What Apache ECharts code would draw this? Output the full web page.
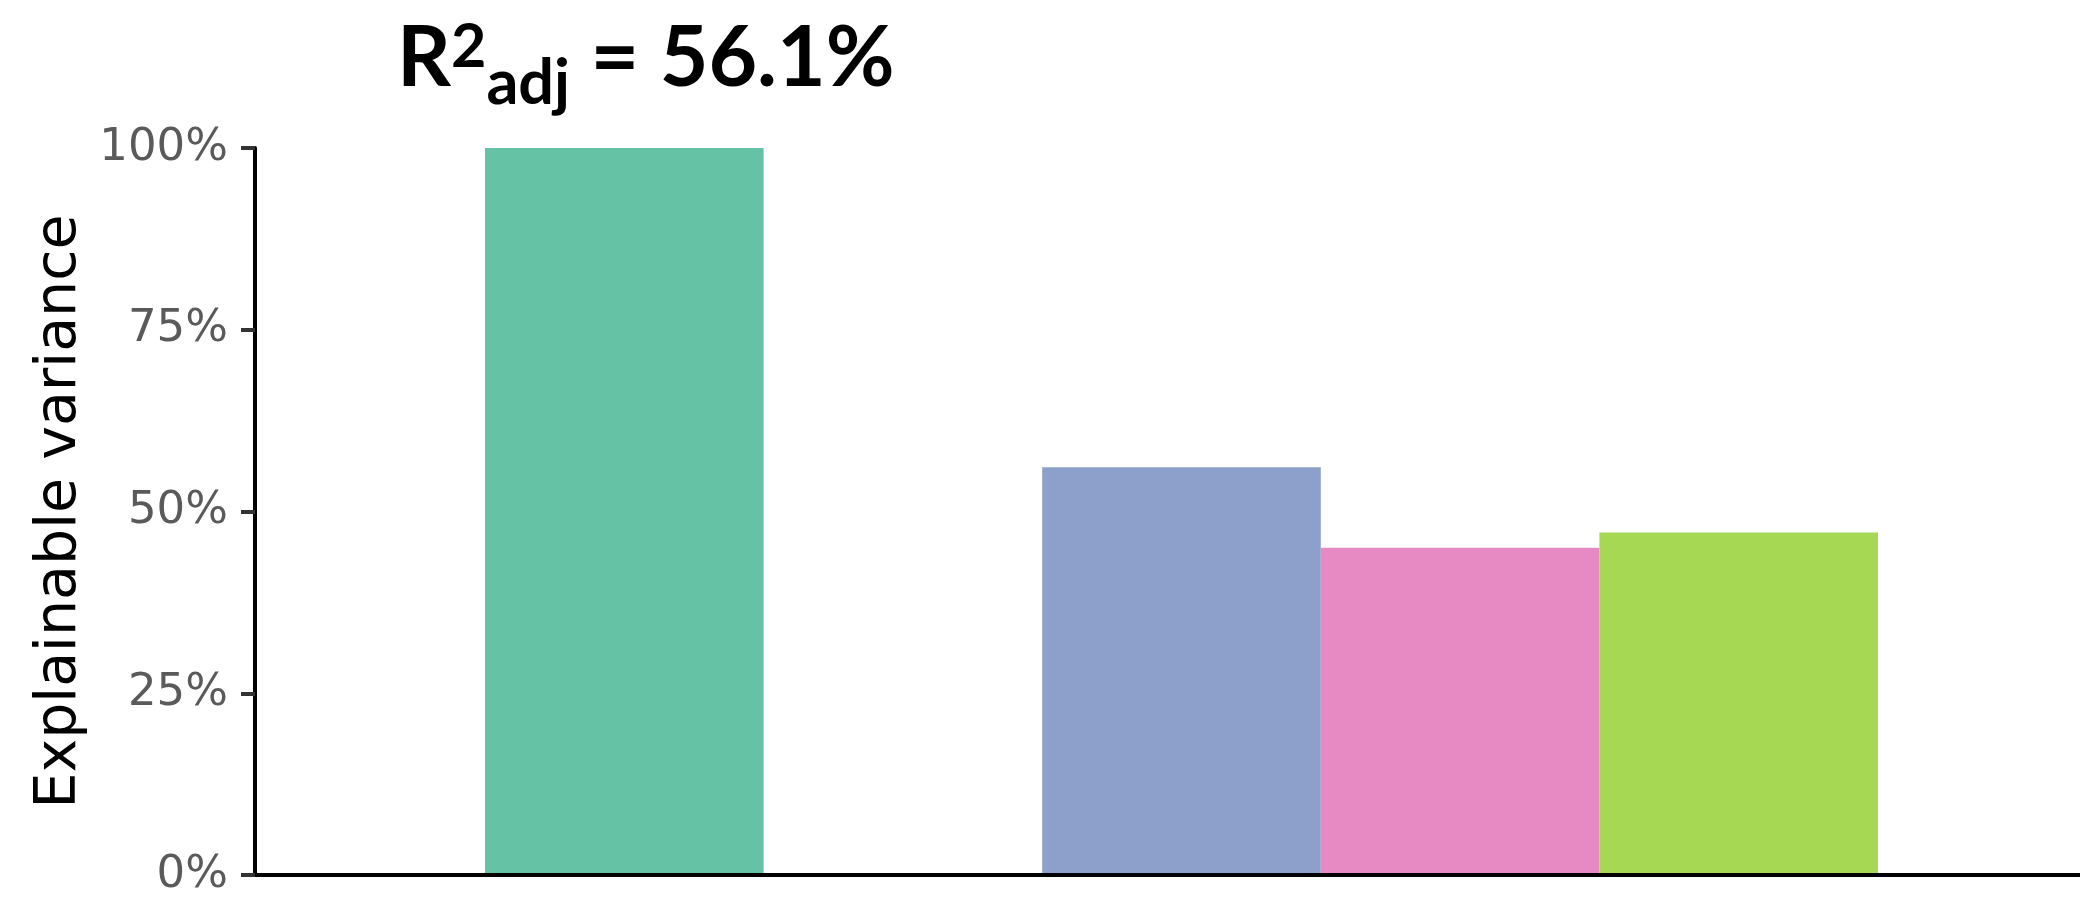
<!DOCTYPE html>
<html>
<head>
<meta charset="utf-8">
<script src="https://cdn.jsdelivr.net/npm/echarts@6/dist/echarts.min.js"></script>
<style>
  html, body { margin: 0; padding: 0; background: #ffffff; }
  #chart { width: 2080px; height: 899px; }
</style>
</head>
<body>
<div id="chart"></div>
<script>
// Bars: the explainable ceiling, an empty spacer slot, then the model and its two parts
var categories = ['Explainable', '', 'Full model', 'Part A', 'Part B'];
var values = [100, null, 56.1, 45.0, 47.1];
var barColors = ['#66c2a5', null, '#8da0cb', '#e78ac3', '#a6d854'];
var yTicks = [0, 25, 50, 75, 100];
var yTickLabels = ['0%', '25%', '50%', '75%', '100%'];
var titleParts = { base: 'R', sup: '2', sub: 'adj', rest: ' = 56.1%' };

var chart = echarts.init(document.getElementById('chart'), null, { renderer: 'canvas' });

var barData = values.map(function (v, i) {
  return v === null ? null : { value: v, itemStyle: { color: barColors[i] } };
});

var yMin = yTicks[0];
var yMax = yTicks[yTicks.length - 1];
var yStep = yTicks[1] - yTicks[0];

chart.setOption({
  backgroundColor: '#ffffff',
  animation: false,
  title: {
    text: '{b|' + titleParts.base + '}{sup|' + titleParts.sup + '}{sub|' + titleParts.sub + '}{b|' + titleParts.rest + '}',
    left: 392,
    top: 6,
    textStyle: {
      rich: {
        b:   { fontFamily: 'Lato', fontWeight: 'bold', fontSize: 84, lineHeight: 104, color: '#000', verticalAlign: 'bottom', padding: [0, 0, 14, 0] },
        sup: { fontFamily: 'Lato', fontWeight: 'bold', fontSize: 61, lineHeight: 104, color: '#000', verticalAlign: 'bottom', padding: [0, 0, 37, 0] },
        sub: { fontFamily: 'Lato', fontWeight: 'bold', fontSize: 63, lineHeight: 104, color: '#000', verticalAlign: 'bottom', padding: [0, 0, 0, 0] }
      }
    }
  },
  grid: [
    { left: 255, right: 0, top: 148, bottom: 24, containLabel: false },
    { left: 485, right: 202, top: 148, bottom: 24, containLabel: false }
  ],
  xAxis: [
    {
      gridIndex: 0, type: 'value', min: 0, max: 1, z: 5,
      axisLine: { show: true, onZero: false, lineStyle: { color: '#000', width: 4 } },
      axisTick: { show: false }, axisLabel: { show: false }, splitLine: { show: false }
    },
    {
      gridIndex: 1, type: 'category', data: categories,
      axisLine: { show: false }, axisTick: { show: false }, axisLabel: { show: false }
    }
  ],
  yAxis: [
    {
      gridIndex: 0, type: 'value', min: yMin, max: yMax, interval: yStep, z: 5,
      name: 'Explainable variance',
      nameLocation: 'middle',
      nameGap: 166,
      nameTextStyle: { fontFamily: 'DejaVu Sans', fontSize: 57, color: '#000' },
      axisLine: { show: true, lineStyle: { color: '#000', width: 4 } },
      axisTick: { show: true, length: 14, lineStyle: { color: '#333', width: 4 } },
      axisLabel: {
        margin: 27,
        fontFamily: 'DejaVu Sans', fontSize: 45, color: '#5a5a5a',
        formatter: function (v) {
          var i = yTicks.indexOf(v);
          return i >= 0 ? yTickLabels[i] : '';
        }
      },
      splitLine: { show: false }
    },
    {
      gridIndex: 1, type: 'value', min: yMin, max: yMax, interval: yStep,
      axisLine: { show: false }, axisTick: { show: false }, axisLabel: { show: false }, splitLine: { show: false }
    }
  ],
  series: [
    {
      type: 'bar',
      xAxisIndex: 1, yAxisIndex: 1,
      data: barData,
      barWidth: '100%',
      barCategoryGap: 0
    }
  ]
});
</script>
</body>
</html>
